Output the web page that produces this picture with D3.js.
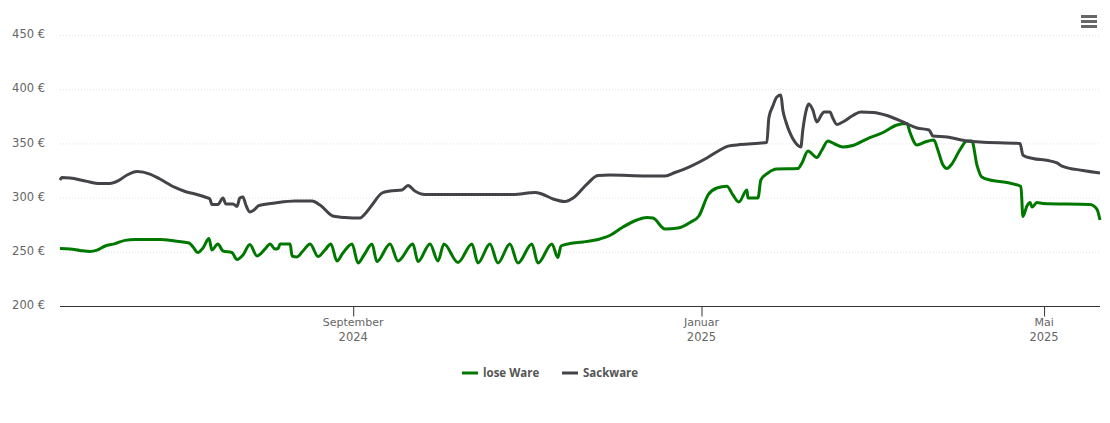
<!DOCTYPE html>
<html>
<head>
<meta charset="utf-8">
<script src="https://cdn.jsdelivr.net/npm/d3@7"></script>
<style>
  html, body { margin: 0; padding: 0; background: #fff; }
</style>
</head>
<body>
<svg id="chart" width="1110" height="423" font-family="'DejaVu Sans', sans-serif"></svg>
<script>
// days since the first reading, and price in euro
var loseDays = [0,3.5,7,10.5,13,15.8,19.3,22.8,26.3,35,40.3,45.2,46.6,48.3,50.1,52.2,53.2,55.3,57.1,60.2,62,64.1,66.5,69,71.8,73.6,75.3,76.4,77.1,80.6,81.3,83,85.1,87.6,90.4,92.8,94.9,97,99.1,102.3,104.4,106.5,109.3,111,115.6,118.4,123.6,125.4,129.6,132.4,134.5,139.4,144.3,146.4,150.6,153.4,157.6,160.4,165.3,167.4,172.3,174.4,175.5,178.6,183.2,189.1,192.6,197.2,202.1,205.6,207.7,211.9,216.5,220.7,223.8,227,230.1,233.6,235.7,237.8,240.6,241,244.5,245.5,248,251.1,258.5,259.9,262,265.1,266.9,269,271.4,274.2,277.7,282.6,288.3,293.2,296.7,297.7,300.2,303,306.1,307.5,309.3,310.7,312.4,315.2,317.7,319.4,321.2,322.9,325.7,331.7,336.6,337.3,338.7,339.8,340.5,342.2,344.3,360.8,363.2,364.3];
var losePrice = [253.5,253,251.7,250.7,252,255.8,258,261,261.8,261.8,260.4,258.6,254.9,249.8,254,262.7,252.1,257.7,251.2,249.8,243.4,247.5,257.2,246.6,253,257.7,253,253.5,257.7,257.7,246.6,245.7,251.2,257.7,246.1,252.1,257.7,242,249.4,257.7,240.1,247.5,257.7,241.5,257.7,242,257.7,241.5,257.7,242,257.7,240.6,257.7,240.1,257.7,240.1,257.7,240.1,257.7,240.1,257.7,245.2,255.8,258.1,259.5,262.3,265.5,273.3,279.8,282.1,281.6,271.5,272.4,277.5,283.5,302.9,309.3,311,302.9,296.4,307.5,300.1,300.1,316.7,323.2,326.8,327.3,332.4,343.4,337.5,344.4,352.7,349.9,347.1,348.5,354.5,360.5,367.4,368.8,361,349,351.7,353.6,344.4,330.5,327.3,331.5,344.4,352.7,352.7,330.5,319.5,316.7,314.4,310.7,283,292.7,295.9,291.8,295.9,295,294.1,289.9,279.8];

var sackDays = [0,0.7,3.5,8.8,14,17.5,20.3,23.5,27,31.5,35,40.3,43.8,47.3,50.8,52.5,53.2,55.3,57.1,58.1,60.6,62,63,64.1,65.1,66.5,67.9,69.7,75.3,82.3,88.3,91.1,95.6,99.8,105.1,106.8,109.3,112.8,115.6,119.8,121.9,124.3,127.8,158.7,166.4,168.8,172.7,176.9,179.7,184.6,188.4,192.6,205.6,211.9,215.4,220.7,226.6,231.2,234,238.2,247.6,248.3,249.7,251.1,252.5,253.2,254.3,255.7,257.4,259.5,260.2,261.6,262.3,263.7,265.1,266.9,267.6,269.7,270.7,272.1,274.2,277.7,280.5,284.8,289.7,295.3,300.2,304.4,305.8,310.7,317.7,322.3,336.3,337.3,340.8,346.1,349.2,351,358.3,364.3];
var sackPrice = [316.7,319,318.5,315.8,313.5,313.5,315.8,321.3,324.5,322.2,317.6,309.8,306.1,303.8,301,299.2,294.1,294.1,300.1,294.6,294.6,292.3,300.1,301,293.6,287.2,289,293.2,295.5,297.3,297.3,293.6,283.5,282.1,281.6,285.3,293.6,304.7,306.5,307.5,311.6,306.5,303.3,303.3,305.2,303.8,299.2,296.9,300.1,313,320.8,321.3,320.4,320.4,323.6,329.1,337,344.4,347.9,349.4,351.3,373.9,385,393.3,395.1,381.3,370.2,360.1,351.8,347.1,362.8,383.1,386.8,381.3,370.2,377.6,379.4,379.4,373.9,367.9,370.2,376.2,379.4,379,376.2,370.2,364.7,362.8,357.3,356.4,352.7,351.8,350.4,339.6,336.5,334.7,332.4,329.6,325.5,323.2];

var seriesNames = ["lose Ware", "Sackware"];
var seriesColors = ["#007800", "#434348"];
var yTicks = [200, 250, 300, 350, 400, 450];
var xTickDates = ["2024-09-01", "2025-01-01", "2025-05-01"];
var xTickMonths = ["September", "Januar", "Mai"];
var xTickYears = ["2024", "2025", "2025"];
var firstDay = new Date("2024-05-21T07:00:00Z");

function toDate(d) {
  return new Date(firstDay.getTime() + d * 86400000);
}

var svg = d3.select("#chart");

var x = d3.scaleUtc().domain([firstDay, toDate(364.3)]).range([60, 1100]);
var y = d3.scaleLinear().domain([200, 450]).range([306.5, 35.5]);

// grid
svg.append("g").selectAll("line")
  .data(yTicks.slice(1))
  .join("line")
  .attr("x1", 60).attr("x2", 1100)
  .attr("y1", d => y(d)).attr("y2", d => y(d))
  .attr("stroke", "#e2e2e2")
  .attr("stroke-dasharray", "1,2");

// y axis labels
var yAxis = d3.axisLeft(y).tickValues(yTicks).tickSize(0).tickPadding(15).tickFormat(d => d + " €");
svg.append("g").attr("transform", "translate(60,-1.5)").call(yAxis)
  .call(g => g.select(".domain").remove())
  .selectAll("text")
  .attr("font-size", 11.5)
  .attr("font-family", "'DejaVu Sans', sans-serif")
  .attr("fill", "#666");

// x axis
var tickDates = xTickDates.map(d => new Date(d + "T00:00:00Z"));
var xAxis = d3.axisBottom(x).tickValues(tickDates).tickSize(10).tickFormat("");
var xg = svg.append("g").attr("transform", "translate(0,306.5)").call(xAxis);
xg.select(".domain").attr("stroke", "#333").attr("d", "M60,0H1100");
xg.selectAll(".tick line").attr("stroke", "#333");
xg.selectAll(".tick text").remove();

var labels = svg.append("g").selectAll("text")
  .data(tickDates)
  .join("text")
  .attr("x", d => x(d))
  .attr("text-anchor", "middle")
  .attr("font-size", 11)
  .attr("fill", "#666");
labels.append("tspan").attr("x", d => x(d)).attr("y", 326).text((d, i) => xTickMonths[i]);
labels.append("tspan").attr("x", d => x(d)).attr("y", 341).attr("font-size", 11.5).text((d, i) => xTickYears[i]);

// lines
var line = d3.line()
  .x(d => x(toDate(d[0])))
  .y(d => y(d[1]))
  .curve(d3.curveMonotoneX);

svg.append("path")
  .datum(d3.zip(loseDays, losePrice))
  .attr("fill", "none")
  .attr("stroke", seriesColors[0])
  .attr("stroke-width", 3)
  .attr("stroke-linejoin", "round")
  .attr("d", line);

svg.append("path")
  .datum(d3.zip(sackDays, sackPrice))
  .attr("fill", "none")
  .attr("stroke", seriesColors[1])
  .attr("stroke-width", 3)
  .attr("stroke-linejoin", "round")
  .attr("d", line);

// legend
var legendX = [462, 562];
var legend = svg.append("g").selectAll("g")
  .data(seriesNames)
  .join("g")
  .attr("transform", (d, i) => "translate(" + legendX[i] + ",373)");
legend.append("line")
  .attr("x1", 0).attr("x2", 16)
  .attr("stroke", (d, i) => seriesColors[i])
  .attr("stroke-width", 3);
legend.append("text")
  .attr("x", 21).attr("y", 4)
  .attr("font-size", 11.5)
  .attr("font-family", "'Open Sans', sans-serif")
  .attr("font-weight", "bold")
  .attr("fill", "#555")
  .text(d => d);

// menu icon
svg.append("g").selectAll("line")
  .data([16.5, 21.5, 26.5])
  .join("line")
  .attr("x1", 1081).attr("x2", 1097)
  .attr("y1", d => d).attr("y2", d => d)
  .attr("stroke", "#666")
  .attr("stroke-width", 3);
</script>
</body>
</html>
